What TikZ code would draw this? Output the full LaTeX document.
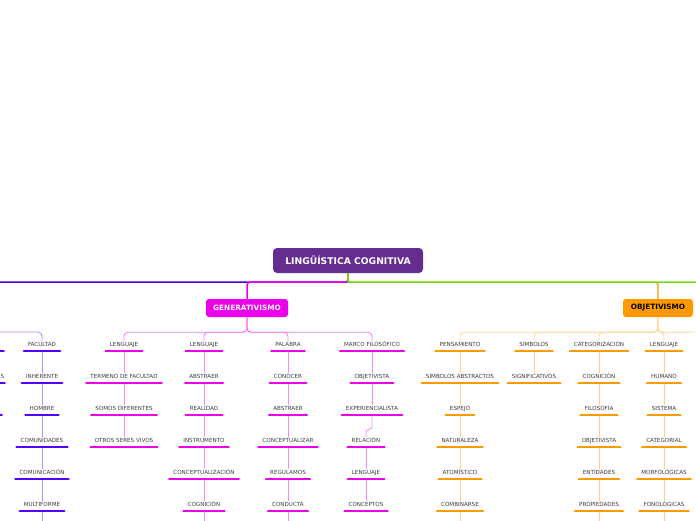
\documentclass[tikz,border=0pt]{standalone}
\usepackage{fontspec}
\setmainfont{DejaVu Sans}
\definecolor{rootc}{RGB}{102,45,145}
\definecolor{colB}{RGB}{85,0,255}
\definecolor{colM}{RGB}{236,0,236}
\definecolor{colO}{RGB}{255,153,0}
\definecolor{colG}{RGB}{115,220,20}
\definecolor{txt}{RGB}{60,60,60}
\tikzset{
  topic/.style={font=\fontsize{5.6}{6}\selectfont,text=txt,inner xsep=4pt,inner ysep=0pt,
    text height=5pt,text depth=5pt,anchor=base},
  bar/.style={line width=2.4pt,line cap=round,draw=#1},
  link/.style={line width=0.9pt,draw=#1,rounded corners=4pt},
  mainbox/.style={fill=#1,rounded corners=3pt,inner sep=0pt,minimum height=18pt,
    font=\bfseries\fontsize{7.3}{8}\selectfont},
}

\begin{document}
\begin{tikzpicture}[x=1pt,y=-1pt]
    \useasboundingbox (0,0) rectangle (696,520);
    \clip (0,0) rectangle (696,520);
    % --- central topic and the two main branches
    \node[fill=rootc,text=white,rounded corners=4pt,minimum width=150pt,minimum height=25pt,
      font=\bfseries\fontsize{9.2}{10}\selectfont] (root) at (348,260.5) {LINGÜÍSTICA COGNITIVA};
    \node[mainbox=colO,minimum width=70pt] (obj) at (658,308) {\color{black}OBJETIVISMO};
    \node[mainbox=colM,text=white,minimum width=82pt] (gen) at (247,308) {GENERATIVISMO};
    \coordinate (lft) at (-5,282);
    \coordinate (rgt) at (701,282);
    \coordinate (bleft) at (-5,332);
    \coordinate (oright) at (701,332);
    % --- topics, one column each
    \foreach \x/\c/\n/\items in {
        42/colB/fac/{FACULTAD,INHERENTE,HOMBRE,COMUNIDADES,COMUNICACIÓN,MULTIFORME},
        124/colM/ter/{LENGUAJE,TERMENO DE FACULTAD,SOMOS DIFERENTES,OTROS SERES VIVOS},
        204/colM/abs/{LENGUAJE,ABSTRAER,REALIDAD,INSTRUMENTO,CONCEPTUALIZACIÓN,COGNICIÓN},
        288/colM/pal/{PALABRA,CONOCER,ABSTRAER,CONCEPTUALIZAR,REGULAMOS,CONDUCTA},
        372/colM/mar/{MARCO FILOSÓFICO,OBJETIVISTA,EXPERIENCIALISTA},
        460/colO/pen/{PENSAMIENTO,SÍMBOLOS ABSTRACTOS,ESPEJO,NATURALEZA,ATOMÍSTICO,COMBINARSE},
        534/colO/sim/{SÍMBOLOS,SIGNIFICATIVOS},
        599/colO/cat/{CATEGORIZACIÓN,COGNICIÓN,FILOSOFÍA,OBJETIVISTA,ENTIDADES,PROPIEDADES},
        664/colO/hum/{LENGUAJE,HUMANO,SISTEMA,CATEGORIAL,MORFOLÓGICAS,FONOLÓGICAS}}{
      \foreach \t [count=\i,remember=\i as \p (initially 0)] in \items {
        \node[topic] (\n-\i) at (\x,{346+32*(\i-1)}) {\t};
        \ifnum\i>1 \draw[link=\c!45] ([yshift=-1.2pt]\n-\p.south) -- (\n-\i.north); \fi
        \draw[bar=\c] (\n-\i.south west) -- (\n-\i.south east);
      }
    }
    % --- second half of the marco column, shifted left
    \foreach \t [count=\i,remember=\i as \p (initially 0)] in {RELACIÓN,LENGUAJE,CONCEPTOS} {
      \node[topic] (rel-\i) at (366,{442+32*(\i-1)}) {\t};
      \ifnum\i>1 \draw[link=colM!45] ([yshift=-1.2pt]rel-\p.south) -- (rel-\i.north); \fi
      \draw[bar=colM] (rel-\i.south west) -- (rel-\i.south east);
    }
    \draw[link=colM!45,rounded corners=3pt] ([yshift=-1.2pt]mar-3.south) -- ++(0,13) -| (rel-1.north);
    % --- columns running on below the page
    \foreach \n/\c in {fac/colB,abs/colM,pal/colM,pen/colO,cat/colO,hum/colO}
      \draw[link=\c!45] ([yshift=-1.2pt]\n-6.south) -- ++(0,14);
    % --- cut column at the left edge
    \foreach \y/\e in {351/5,383/6,415/3}
      \draw[bar=colB] (-20,\y) -- (\e-1.2,\y);
    \node[topic,anchor=base east] (cut) at (8.5,378) {S};
    % --- branch lines
    \draw[link=colB!45] (bleft) -| (fac-1.north);
    \foreach \n in {ter,abs,pal,mar}
      \draw[link=colM!50] (gen.south) -- ++(0,15) -| (\n-1.north);
    \foreach \n in {pen,sim,cat,hum}
      \draw[link=colO!40] (obj.south) -- ++(0,15) -| (\n-1.north);
    \draw[link=colO!40] (obj.south) -- ++(0,15) -- (oright);
    \draw[line width=1.5pt,colB!85!black] (root.south) -- ++(0,9) -- (lft);
    \draw[line width=1.5pt,colM,rounded corners=3pt] (root.south) -- ++(0,9) -| (gen.north);
    \draw[line width=1.3pt,colO,rounded corners=3pt] (root.south) -- ++(0,9) -| (obj.north);
    \draw[line width=1.5pt,colG] (root.south) -- ++(0,9) -- (rgt);
\end{tikzpicture}
\end{document}
